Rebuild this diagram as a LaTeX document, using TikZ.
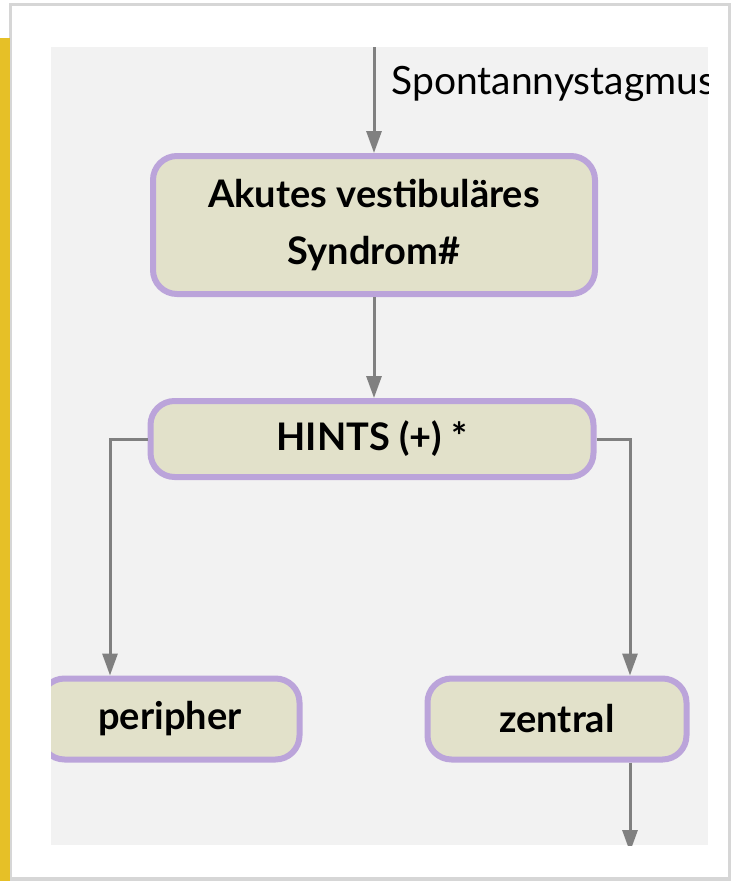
\documentclass[tikz,border=0pt]{standalone}
\usepackage{fontspec}
\setmainfont{Lato}
\usetikzlibrary{arrows.meta,positioning}

\definecolor{boxfill}{HTML}{E2E1CA}
\definecolor{boxline}{HTML}{BBA4DA}
\definecolor{arrowgray}{HTML}{808080}
\definecolor{panelgray}{HTML}{F2F2F2}
\definecolor{sideyellow}{HTML}{E6C027}
\definecolor{cardshadow}{HTML}{D6D6D6}

\begin{document}
\begin{tikzpicture}[x=1pt, y=-1pt,
  flowbox/.style={draw=boxline, line width=6pt, fill=boxfill, rounded corners=24pt,
    align=center, font=\bfseries\fontsize{38}{57}\selectfont},
  flowarrow/.style={draw=arrowgray, line width=3pt,
    -{Triangle[length=22pt,width=15pt]}}]

  % Page and card
  \useasboundingbox (0,0) rectangle (735,881);
  \fill[white] (0,0) rectangle (735,881);
  \fill[cardshadow] (9,3) rectangle (731,881);
  \fill[white] (12,6) rectangle (728,877);
  \fill[sideyellow] (0,38) rectangle (10,881);

  % Grey panel holding the chart
  \fill[panelgray] (51,47) rectangle (708,845);

  \begin{scope}
    \clip (51,47) rectangle (708,845);

    % Boxes
    \node[flowbox, minimum width=442pt, minimum height=138pt] (akutes) at (374,225)
      {Akutes vestibuläres\\Syndrom\#};
    \node[flowbox, minimum width=443pt, minimum height=76pt] (hints) at (372,439)
      {HINTS (+) *};
    \node[flowbox, minimum width=259pt, minimum height=81pt] (peripher) at (170,719)
      {peripher};
    \node[flowbox, minimum width=259pt, minimum height=81pt] (zentral) at (557,719)
      {zentral};

    % Entry with its label
    \coordinate (entry) at (374,40);
    \node[anchor=west, font=\fontsize{39}{44}\selectfont] (spont) at (388,84) {Spontannystagmus};
    \coordinate (exit) at (630,852);

    % Connectors
    \draw[flowarrow] (entry) -- (akutes.north);
    \draw[flowarrow] (akutes.south) -- (akutes.south |- hints.north);
    \draw[flowarrow] (hints.west) -| ([xshift=-60pt]peripher.north);
    \draw[flowarrow] (hints.east) -| ([xshift=73pt]zentral.north);
    \draw[flowarrow] ([xshift=73pt]zentral.south) -- (exit);
  \end{scope}

\end{tikzpicture}
\end{document}
